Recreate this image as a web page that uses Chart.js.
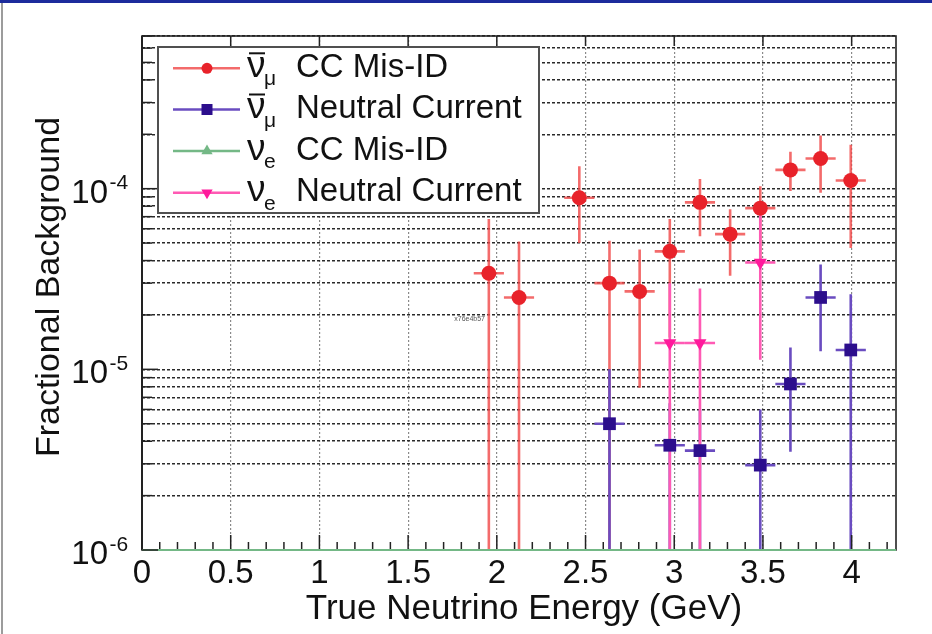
<!DOCTYPE html>
<html>
<head>
<meta charset="utf-8">
<script src="https://cdn.jsdelivr.net/npm/chart.js@4.4.0/dist/chart.umd.min.js"></script>
<style>
  html, body { margin: 0; padding: 0; background: #fff; }
  #wrap { position: relative; width: 932px; height: 634px; overflow: hidden; background: #fff; }
  #topbar { position: absolute; left: 0; top: 0; width: 932px; height: 3px; background: #1d2b9c; }
  #leftbar { position: absolute; left: 1px; top: 3px; width: 2px; height: 631px; background: #9c9c9c; }
  canvas { position: absolute; left: 0; top: 0; }
</style>
</head>
<body>
<div id="wrap">
  <canvas id="c" width="932" height="634"></canvas>
  <div id="topbar"></div>
  <div id="leftbar"></div>
</div>
<script>
// ---- axis ticks & labels ----
const xTickLabels = ['0', '0.5', '1', '1.5', '2', '2.5', '3', '3.5', '4'];
const yDecades = [1e-6, 1e-5, 1e-4];
const yExponents = ['-6', '-5', '-4'];

// half width of an energy bin (GeV)
const binHalfWidth = 0.085;

// ---- anti-nu_mu CC mis-identified ----
const antiNumuCCEnergy = [1.955, 2.125, 2.465, 2.635, 2.805, 2.975, 3.145, 3.315, 3.485, 3.655, 3.825, 3.995];
const antiNumuCCFrac   = [3.4e-5, 2.5e-5, 8.9e-5, 3.0e-5, 2.7e-5, 4.5e-5, 8.4e-5, 5.6e-5, 7.8e-5, 1.27e-4, 1.47e-4, 1.11e-4];
const antiNumuCCHigh   = [6.8e-5, 5.1e-5, 1.33e-4, 5.15e-5, 4.6e-5, 6.8e-5, 1.13e-4, 7.7e-5, 1.03e-4, 1.6e-4, 1.97e-4, 1.75e-4];
const antiNumuCCLow    = [0, 0, 5.0e-5, 0, 7.9e-6, 1.5e-5, 5.45e-5, 3.3e-5, 3.9e-5, 9.7e-5, 9.5e-5, 4.7e-5];

// ---- anti-nu_mu neutral current ----
const antiNumuNCEnergy = [2.635, 2.975, 3.145, 3.485, 3.655, 3.825, 3.995];
const antiNumuNCFrac   = [5.0e-6, 3.8e-6, 3.55e-6, 2.95e-6, 8.3e-6, 2.5e-5, 1.28e-5];
const antiNumuNCHigh   = [1.0e-5, 6.5e-6, 6.0e-6, 6.0e-6, 1.32e-5, 3.8e-5, 2.6e-5];
const antiNumuNCLow    = [0, 0, 0, 0, 3.5e-6, 1.26e-5, 0];

// ---- nu_e CC mis-identified (empty in every bin) ----
const nueCCEnergy = [];
const nueCCFrac   = [];

// ---- nu_e neutral current ----
const nueNCEnergy = [2.975, 3.145, 3.485];
const nueNCFrac   = [1.4e-5, 1.4e-5, 3.9e-5];
const nueNCHigh   = [3.0e-5, 2.8e-5, 7.5e-5];
const nueNCLow    = [0, 0, 1.13e-5];

const FONT = '"Liberation Sans", Arial, Helvetica, sans-serif';
const RED = '#e8222a', RED_ERR = 'rgba(240,70,70,0.8)';
const PURPLE = '#2c0e8c', PURPLE_ERR = '#6a4cc0';
const GREEN = '#74b886';
const PINK = '#ff1a9c', PINK_ERR = '#ff5ab4';

const toPoints = (xs, ys) => xs.map((v, i) => ({ x: v, y: ys[i] }));

// log-axis grid positions: 1..9 x 10^n inside the range
const yMin = 1e-6, yMax = 7e-4;
const yGridValues = [];
for (let n = -6; n <= -4; n++) {
  for (let k = 1; k <= 9; k++) {
    const v = k * Math.pow(10, n);
    if (v >= yMin * 0.999 && v <= yMax * 1.001) yGridValues.push(v);
  }
}
const xGridValues = xTickLabels.map(Number).filter(v => v > 0);

// error bars drawn under the markers
const errorBarPlugin = {
  id: 'errorBars',
  beforeDatasetsDraw(chart) {
    const { ctx, chartArea: a, scales: { x, y } } = chart;
    ctx.save();
    ctx.beginPath();
    ctx.rect(a.left, a.top, a.right - a.left, a.bottom - a.top);
    ctx.clip();
    chart.data.datasets.forEach(ds => {
      if (!ds.errHigh) return;
      ctx.strokeStyle = ds.errColor;
      ctx.lineWidth = 2.6;
      ds.data.forEach((p, i) => {
        const px = x.getPixelForValue(p.x);
        const py = y.getPixelForValue(p.y);
        const hi = y.getPixelForValue(ds.errHigh[i]);
        const lo = ds.errLow[i] > y.min ? y.getPixelForValue(ds.errLow[i]) : a.bottom;
        ctx.beginPath();
        ctx.moveTo(x.getPixelForValue(p.x - binHalfWidth), py);
        ctx.lineTo(x.getPixelForValue(p.x + binHalfWidth), py);
        ctx.moveTo(px, hi);
        ctx.lineTo(px, lo);
        ctx.stroke();
      });
    });
    ctx.restore();
  }
};

// frame, inward ticks, tick labels and axis titles
const framePlugin = {
  id: 'frame',
  afterDatasetsDraw(chart) {
    const { ctx, chartArea: a, scales: { x, y } } = chart;
    ctx.save();
    ctx.strokeStyle = '#222';
    ctx.lineWidth = 1.6;
    ctx.strokeRect(a.left, a.top, a.right - a.left, a.bottom - a.top);
    ctx.lineWidth = 2;
    ctx.beginPath();
    ctx.moveTo(a.left, a.top); ctx.lineTo(a.left, a.bottom);
    ctx.stroke();
    // empty nu_e CC series lies along the axis minimum
    ctx.strokeStyle = GREEN;
    ctx.lineWidth = 2;
    ctx.beginPath();
    ctx.moveTo(x.getPixelForValue(x.min), y.getPixelForValue(y.min));
    ctx.lineTo(x.getPixelForValue(x.max), y.getPixelForValue(y.min));
    ctx.stroke();

    // x ticks (every 0.1, longer every 0.5)
    ctx.strokeStyle = '#222';
    ctx.lineWidth = 1.5;
    for (let i = 1; i * 0.1 < x.max; i++) {
      const px = x.getPixelForValue(i * 0.1);
      const major = i % 5 === 0;
      ctx.beginPath();
      ctx.moveTo(px, a.bottom - 1);
      ctx.lineTo(px, a.bottom - (major ? 15 : 8));
      ctx.stroke();
      if (major) {
        ctx.beginPath();
        ctx.moveTo(px, a.top);
        ctx.lineTo(px, a.top + 10);
        ctx.stroke();
      }
    }
    // y ticks
    yGridValues.forEach(v => {
      const py = y.getPixelForValue(v);
      const major = yDecades.some(d => Math.abs(d - v) / d < 1e-6);
      ctx.beginPath();
      ctx.moveTo(a.left, py);
      ctx.lineTo(a.left + (major ? 16 : 10), py);
      ctx.stroke();
    });

    // tick labels
    ctx.fillStyle = '#111';
    ctx.textBaseline = 'alphabetic';
    ctx.font = '33px ' + FONT;
    ctx.textAlign = 'center';
    xTickLabels.forEach(t => {
      ctx.fillText(t, x.getPixelForValue(Number(t)), 583);
    });
    yDecades.forEach((d, i) => {
      const py = y.getPixelForValue(d);
      ctx.font = '33px ' + FONT;
      ctx.textAlign = 'right';
      ctx.fillText('10', 108, py + 14);
      ctx.font = '21px ' + FONT;
      ctx.textAlign = 'left';
      ctx.fillText(yExponents[i], 109.5, py + 0.5);
    });

    // axis titles
    ctx.font = '35px ' + FONT;
    ctx.textAlign = 'center';
    ctx.fillText('True Neutrino Energy (GeV)', 524, 619);
    ctx.font = '34px ' + FONT;
    ctx.save();
    ctx.translate(59, 287);
    ctx.rotate(-Math.PI / 2);
    ctx.fillText('Fractional Background', 0, 0);
    ctx.restore();

    // small stamp left inside the frame
    ctx.font = '7px ' + FONT;
    ctx.fillStyle = '#555';
    ctx.textAlign = 'right';
    ctx.fillText('x76e4b57', 485, 321);
    ctx.restore();
  }
};

function drawMarker(ctx, style, cx, cy, r, color) {
  ctx.fillStyle = color;
  ctx.beginPath();
  if (style === 'circle') {
    ctx.arc(cx, cy, r, 0, Math.PI * 2);
  } else if (style === 'rect') {
    ctx.rect(cx - r, cy - r, 2 * r, 2 * r);
  } else if (style === 'triangle') {
    ctx.moveTo(cx, cy - r);
    ctx.lineTo(cx + r * 0.87, cy + r * 0.5);
    ctx.lineTo(cx - r * 0.87, cy + r * 0.5);
  } else if (style === 'triangleDown') {
    ctx.moveTo(cx, cy + r);
    ctx.lineTo(cx + r * 0.87, cy - r * 0.5);
    ctx.lineTo(cx - r * 0.87, cy - r * 0.5);
  }
  ctx.closePath();
  ctx.fill();
}

// legend entries: particle symbol, bar, subscript, label
const legendEntries = [
  { sym: 'ν', bar: true,  sub: 'μ', text: 'CC Mis-ID',       line: RED_ERR,    mark: RED,    style: 'circle',       r: 5.5 },
  { sym: 'ν', bar: true,  sub: 'μ', text: 'Neutral Current', line: PURPLE_ERR, mark: PURPLE, style: 'rect',         r: 5.5 },
  { sym: 'ν', bar: false, sub: 'e', text: 'CC Mis-ID',       line: GREEN,      mark: GREEN,  style: 'triangle',     r: 6.5 },
  { sym: 'ν', bar: false, sub: 'e', text: 'Neutral Current', line: PINK_ERR,   mark: PINK,   style: 'triangleDown', r: 6.5 }
];

const legendPlugin = {
  id: 'rootLegend',
  afterDraw(chart) {
    const ctx = chart.ctx;
    const bx = 158, by = 47, bw = 381, bh = 166;
    ctx.save();
    ctx.fillStyle = '#fff';
    ctx.fillRect(bx, by, bw, bh);
    ctx.strokeStyle = '#505050';
    ctx.lineWidth = 2;
    ctx.strokeRect(bx, by, bw, bh);
    const rowY = [68.3, 109.5, 151, 192.7];
    legendEntries.forEach((e, i) => {
      const ly = rowY[i];
      ctx.strokeStyle = e.line;
      ctx.lineWidth = 2.5;
      ctx.beginPath();
      ctx.moveTo(173, ly); ctx.lineTo(240, ly);
      ctx.stroke();
      drawMarker(ctx, e.style, 207, ly, e.r, e.mark);

      ctx.fillStyle = '#111';
      ctx.textBaseline = 'alphabetic';
      ctx.textAlign = 'left';
      ctx.font = '37px ' + FONT;
      ctx.fillText(e.sym, 247, ly + 8.5);
      if (e.bar) {
        ctx.strokeStyle = '#111';
        ctx.lineWidth = 2;
        ctx.beginPath();
        ctx.moveTo(249, ly - 15); ctx.lineTo(265, ly - 15);
        ctx.stroke();
      }
      ctx.font = '21px ' + FONT;
      ctx.fillText(e.sub, 264, ly + 17);
      ctx.font = '33px ' + FONT;
      ctx.fillText(e.text, 296, ly + 8.5);
    });
    ctx.restore();
  }
};

new Chart(document.getElementById('c'), {
  type: 'scatter',
  data: {
    datasets: [
      {
        label: 'anti-nu_mu CC Mis-ID',
        data: toPoints(antiNumuCCEnergy, antiNumuCCFrac),
        errHigh: antiNumuCCHigh, errLow: antiNumuCCLow, errColor: RED_ERR,
        pointStyle: 'circle', pointRadius: 7.5, backgroundColor: RED, borderColor: RED, borderWidth: 0
      },
      {
        label: 'anti-nu_mu Neutral Current',
        data: toPoints(antiNumuNCEnergy, antiNumuNCFrac),
        errHigh: antiNumuNCHigh, errLow: antiNumuNCLow, errColor: PURPLE_ERR,
        pointStyle: 'rect', pointRadius: 9, backgroundColor: PURPLE, borderColor: PURPLE, borderWidth: 0
      },
      {
        label: 'nu_e CC Mis-ID',
        data: toPoints(nueCCEnergy, nueCCFrac),
        pointStyle: 'triangle', pointRadius: 7, backgroundColor: GREEN, borderColor: GREEN, borderWidth: 0
      },
      {
        label: 'nu_e Neutral Current',
        data: toPoints(nueNCEnergy, nueNCFrac),
        errHigh: nueNCHigh, errLow: nueNCLow, errColor: PINK_ERR,
        pointStyle: 'triangle', pointRotation: 180, pointRadius: 7.5,
        backgroundColor: PINK, borderColor: PINK, borderWidth: 0
      }
    ]
  },
  options: {
    responsive: false,
    animation: false,
    events: [],
    layout: { padding: { top: 36, right: 36, left: 0, bottom: 0 } },
    plugins: { legend: { display: false }, tooltip: { enabled: false } },
    scales: {
      x: {
        type: 'linear', min: 0, max: 4.25,
        afterBuildTicks: s => { s.ticks = xGridValues.map(v => ({ value: v })); },
        afterFit: s => { s.height = 84; },
        ticks: { display: false },
        grid: { color: '#8a8a8a', lineWidth: 1.2, drawTicks: false },
        border: { display: false, dash: [2, 2] }
      },
      y: {
        type: 'logarithmic', min: yMin, max: yMax,
        afterBuildTicks: s => { s.ticks = yGridValues.map(v => ({ value: v })); },
        afterFit: s => { s.width = 142; },
        ticks: { display: false },
        grid: { color: '#2a2a2a', lineWidth: 1.5, drawTicks: false },
        border: { display: false, dash: [3, 2] }
      }
    }
  },
  plugins: [errorBarPlugin, framePlugin, legendPlugin]
});
</script>
</body>
</html>
